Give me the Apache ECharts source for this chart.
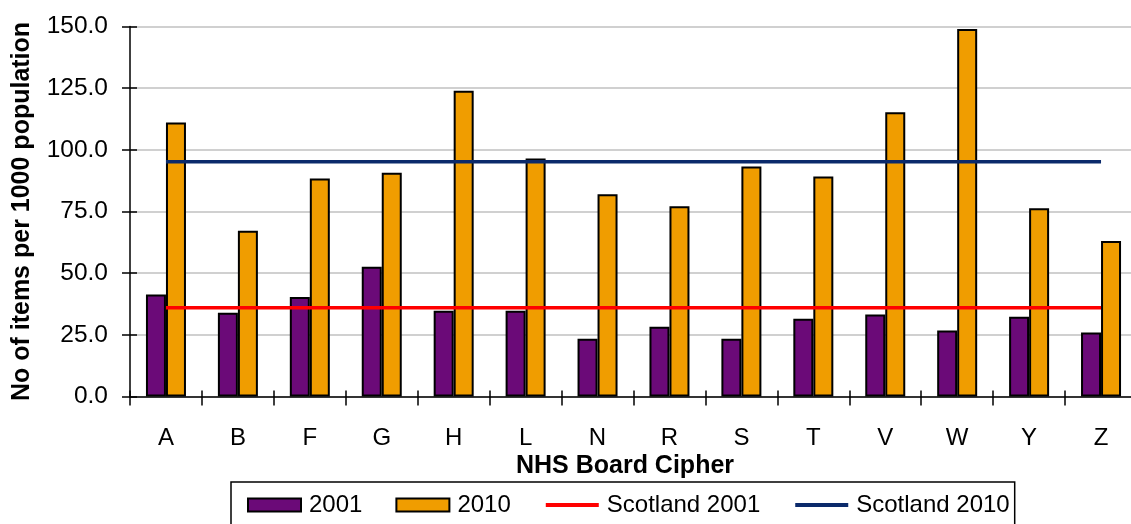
<!DOCTYPE html>
<html>
<head>
<meta charset="utf-8">
<script src="https://cdn.jsdelivr.net/npm/echarts@6/dist/echarts.min.js"></script>
<style>
html,body{margin:0;padding:0;background:#fff;}
#chart{width:1131px;height:524px;}
</style>
</head>
<body>
<div id="chart"></div>
<script>
const categories = ['A','B','F','G','H','L','N','R','S','T','V','W','Y','Z'];
const v2001 = [41.4,34.0,40.3,52.6,34.8,34.8,23.4,28.3,23.4,31.5,33.2,26.8,32.3,25.9];
const v2010 = [111.1,67.2,88.4,90.7,124.0,96.5,82.0,77.1,93.2,89.2,115.2,149.0,76.3,63.0];
const scotland2001 = [36.0,36.0,36.0,36.0,36.0,36.0,36.0,36.0,36.0,36.0,36.0,36.0,36.0,36.0];
const scotland2010 = [95.2,95.2,95.2,95.2,95.2,95.2,95.2,95.2,95.2,95.2,95.2,95.2,95.2,95.2];
const yTicks = {min: 0, max: 150, interval: 25};

const FONT = '"Liberation Sans", Arial, sans-serif';
const chart = echarts.init(document.getElementById('chart'), null, {renderer: 'canvas'});
chart.setOption({
  animation: false,
  backgroundColor: '#fff',
  textStyle: {fontFamily: FONT},
  grid: {left: 130, top: 26.5, right: -6, bottom: 127.5, containLabel: false, outerBoundsMode: 'none'},
  xAxis: [{
    type: 'category',
    data: categories,
    axisLine: {lineStyle: {color: '#000', width: 1.5}},
    axisTick: {show: true, length: 9, lineStyle: {color: '#000', width: 1.5}},
    axisLabel: {color: '#000', fontSize: 24, fontFamily: FONT, margin: 30}
  }, {
    type: 'category',
    data: categories,
    position: 'bottom',
    axisLine: {show: false},
    axisTick: {show: true, inside: true, length: 6, lineStyle: {color: '#000', width: 1.5}},
    axisLabel: {show: false},
    splitLine: {show: false}
  }],
  yAxis: [{
    type: 'value',
    min: yTicks.min, max: yTicks.max, interval: yTicks.interval,
    name: 'No of items per 1000 population',
    nameLocation: 'middle',
    nameGap: 95,
    nameTextStyle: {color: '#000', fontSize: 25, fontWeight: 'bold', fontFamily: FONT},
    axisLine: {show: true, lineStyle: {color: '#000', width: 1.5}},
    axisTick: {show: true, length: 8, lineStyle: {color: '#000', width: 1.5}},
    axisLabel: {color: '#000', fontSize: 24.5, fontFamily: FONT, margin: 22,
      formatter: v => v.toFixed(1)},
    splitLine: {show: true, lineStyle: {color: '#c0c0c0', width: 1.5}}
  }, {
    type: 'value',
    min: yTicks.min, max: yTicks.max, interval: yTicks.interval,
    position: 'left',
    axisLine: {show: false},
    axisTick: {show: true, inside: true, length: 7, lineStyle: {color: '#000', width: 1.5}},
    axisLabel: {show: false},
    splitLine: {show: false}
  }],
  legend: {
    left: 231, top: 482,
    padding: [11, 5, 20, 16],
    borderColor: '#000', borderWidth: 1.5,
    itemWidth: 53, itemHeight: 13, itemGap: 33,
    textStyle: {color: '#000', fontSize: 24, fontFamily: FONT, padding: [0, 0, 0, 3]},
    data: [
      {name: '2001', icon: 'rect'},
      {name: '2010', icon: 'rect'},
      {name: 'Scotland 2001', itemStyle: {opacity: 0}, lineStyle: {width: 4}},
      {name: 'Scotland 2010', itemStyle: {opacity: 0}, lineStyle: {width: 4}}
    ]
  },
  graphic: [{
    type: 'text', x: 625, y: 466,
    style: {text: 'NHS Board Cipher', align: 'center', verticalAlign: 'middle',
      font: 'bold 25px ' + FONT, fill: '#000'}
  }],
  series: [
    {name: '2001', type: 'bar', data: v2001, barWidth: 20, barGap: '0%',
      itemStyle: {color: '#6b0a78', borderColor: '#000', borderWidth: 2}},
    {name: '2010', type: 'bar', data: v2010, barWidth: 20, barGap: '0%',
      itemStyle: {color: '#f09d00', borderColor: '#000', borderWidth: 2}},
    {name: 'Scotland 2001', type: 'line', data: scotland2001, symbol: 'none', z: 5,
      lineStyle: {color: '#ff0000', width: 3.5}, itemStyle: {color: '#ff0000'}},
    {name: 'Scotland 2010', type: 'line', data: scotland2010, symbol: 'none', z: 5,
      lineStyle: {color: '#0b2a6b', width: 3.5}, itemStyle: {color: '#0b2a6b'}}
  ]
});
</script>
</body>
</html>
